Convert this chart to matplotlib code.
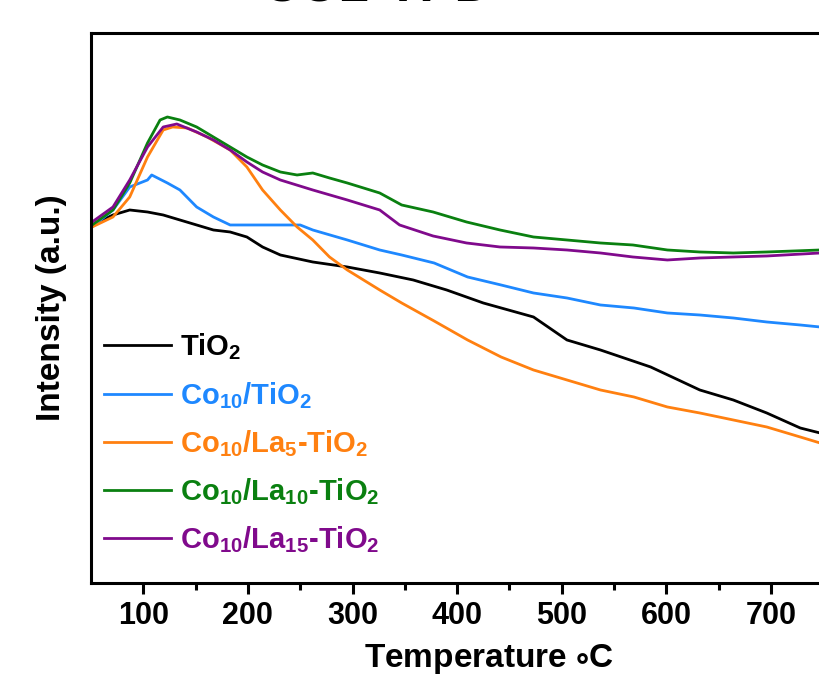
import numpy as np
import matplotlib.pyplot as plt
from matplotlib.ticker import NullLocator

plt.rcParams['font.family'] = ['Liberation Sans', 'DejaVu Sans']
plt.rcParams['font.weight'] = 'bold'
plt.rcParams['mathtext.default'] = 'regular'

# temperatures (C) and intensities (a.u.)
t_tio2 = [51, 71, 87, 104, 119, 135, 167, 183, 199, 214, 231, 262, 295, 326, 358, 390,
          425, 473, 505, 537, 585, 632, 664, 696, 728, 747]
i_tio2 = [358, 368, 373, 371, 368, 363, 353, 351, 346, 336, 328, 321, 316, 310, 303, 293,
          280, 266, 243, 233, 216, 193, 183, 170, 155, 150]

t_co = [51, 71, 87, 104, 108, 123, 135, 151, 167, 183, 199, 231, 250, 262, 295, 326, 347,
        378, 410, 442, 473, 505, 537, 569, 601, 632, 664, 696, 728, 747]
i_co = [356, 373, 396, 403, 408, 400, 393, 376, 366, 358, 358, 358, 358, 353, 343, 333, 328,
        320, 306, 298, 290, 285, 278, 275, 270, 268, 265, 261, 258, 256]

t_la5 = [51, 71, 87, 104, 119, 128, 142, 161, 183, 199, 214, 231, 247, 262, 278, 295, 326,
         347, 378, 410, 442, 473, 505, 537, 569, 601, 632, 664, 696, 728, 747]
i_la5 = [356, 366, 386, 426, 453, 456, 455, 446, 433, 416, 393, 373, 356, 343, 326, 313, 293,
         280, 262, 243, 226, 213, 203, 193, 186, 176, 170, 163, 156, 146, 140]

t_la10 = [51, 71, 87, 104, 116, 123, 135, 151, 167, 183, 199, 214, 231, 247, 262, 278, 295,
          326, 347, 377, 409, 441, 473, 505, 537, 568, 601, 632, 664, 696, 747]
i_la10 = [358, 373, 400, 440, 463, 466, 463, 456, 446, 436, 426, 418, 411, 408, 410, 405, 400,
          390, 378, 371, 361, 353, 346, 343, 340, 338, 333, 331, 330, 331, 333]

t_la15 = [51, 71, 87, 104, 119, 132, 151, 167, 183, 199, 214, 231, 262, 295, 326, 345, 377,
          409, 441, 473, 505, 537, 568, 601, 632, 664, 696, 747]
i_la15 = [361, 376, 403, 436, 456, 459, 451, 443, 433, 421, 411, 403, 393, 383, 373, 358, 347,
          340, 336, 335, 333, 330, 326, 323, 325, 326, 327, 330]

labels = ['TiO$_2$', 'Co$_{10}$/TiO$_2$', 'Co$_{10}$/La$_5$-TiO$_2$',
          'Co$_{10}$/La$_{10}$-TiO$_2$', 'Co$_{10}$/La$_{15}$-TiO$_2$']
colors = ['black', '#1E88FF', '#FF8010', '#0A8010', '#800A8C']
series = [(t_tio2, i_tio2), (t_co, i_co), (t_la5, i_la5), (t_la10, i_la10), (t_la15, i_la15)]
major_ticks = [100, 200, 300, 400, 500, 600, 700]
minor_ticks = [150, 250, 350, 450, 550, 650]

fig = plt.figure(figsize=(8.2, 6.76), dpi=100)
# the original figure is cropped on the right, so the axes run past the edge
ax = fig.add_axes([0.111, 0.1376, 0.9695, 0.8136])

for (t, y), lab, c in zip(series, labels, colors):
    ax.plot(t, y, color=c, lw=2.0, label=lab)

ax.set_xlim(50, 810)
ax.set_ylim(0, 550)
ax.set_xticks(major_ticks)
ax.set_xticks(minor_ticks, minor=True)
ax.yaxis.set_major_locator(NullLocator())
ax.tick_params(axis='x', which='major', direction='out', length=8, width=2.2,
               labelsize=22, pad=5)
ax.tick_params(axis='x', which='minor', direction='out', length=5, width=2.2)
for s in ax.spines.values():
    s.set_linewidth(2.2)

ax.set_xlabel('Temperature $\\circ$C', fontsize=24, fontweight='bold', labelpad=8)
ax.set_ylabel('Intensity (a.u.)', fontsize=24, fontweight='bold', labelpad=17)

leg = ax.legend(loc='lower left', bbox_to_anchor=(0.016, 0.05), frameon=False, fontsize=21,
                handlelength=2.3, handletextpad=0.3, labelspacing=0.6,
                borderpad=0, borderaxespad=0, labelcolor='linecolor')
for line in leg.get_lines():
    line.set_linewidth(2.0)

fig.text(378 / 820, 1 - 1 / 676, 'CO2-TPD', ha='center', va='baseline',
         fontsize=38, fontweight='bold')

fig.savefig('out.png', dpi=100)
